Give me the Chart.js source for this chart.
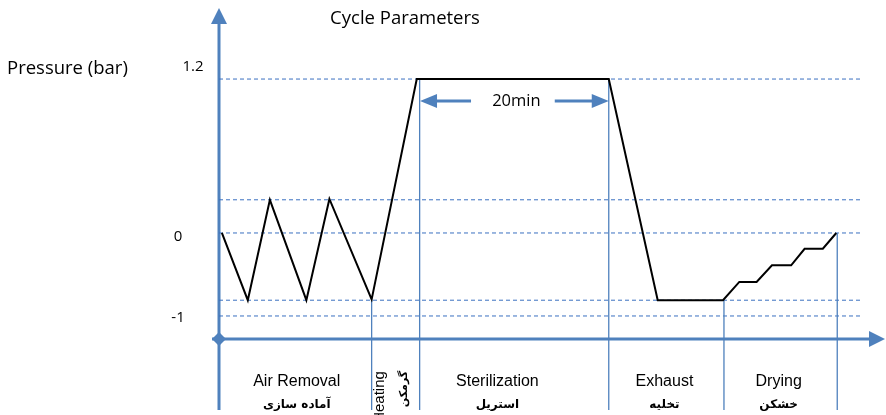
<!DOCTYPE html>
<html>
<head>
<meta charset="utf-8">
<script src="https://cdn.jsdelivr.net/npm/chart.js@4"></script>
<style>
  body { margin: 0; background: #fff; }
</style>
</head>
<body>
<canvas id="cycleChart" width="886" height="415"></canvas>
<script>
// schematic cycle: time in minutes, pressure as drawn level
const minutes = [0.3, 3.0, 5.3, 9.1, 11.5, 15.9, 20.6, 40.6, 45.7, 52.5, 54.2, 56.0, 57.6, 59.6, 61.0, 62.9, 64.3];
const pressureLevel = [0, -0.81, 0.4, -0.81, 0.41, -0.8, 1.855, 1.855, -0.81, -0.81, -0.59, -0.59, -0.39, -0.39, -0.19, -0.19, 0];

const guideLevels = [1.855, 0.4, 0, -0.81, -1];
const yTickValues = [1.855, 0, -1];
const yTickLabels = ['1.2', '0', '-1'];

const phaseBounds = [15.9, 20.9, 40.6, 52.6, 64.4];
const phaseBoundTops = [-0.8, 1.855, 1.855, -0.81, 0];

const phaseNames = ['Air Removal', 'Sterilization', 'Exhaust', 'Drying'];
const phaseNamesFa = ['آماده سازی', 'استریل', 'تخلیه', 'خشکن'];
const phaseCenters = [8.1, 29.0, 46.4, 58.3];

const X_MAX = 69.375, Y_MIN = -2.133, Y_MAX = 2.711;
const AXIS_LEVEL = -1.277;
const BLUE = '#4f81bd';

const datasets = [];
guideLevels.forEach(lv => {
  datasets.push({
    data: [{ x: 0, y: lv }, { x: 67.05, y: lv }],
    borderColor: '#3a70c0', borderWidth: 1, borderDash: [4, 3],
    pointRadius: 0, order: 3
  });
});
phaseBounds.forEach((t, i) => {
  datasets.push({
    data: [{ x: t, y: phaseBoundTops[i] }, { x: t, y: Y_MIN }],
    borderColor: BLUE, borderWidth: 1.3, pointRadius: 0, order: 2
  });
});
datasets.push({
  data: minutes.map((m, i) => ({ x: m, y: pressureLevel[i] })),
  borderColor: '#000', borderWidth: 2, pointRadius: 0, tension: 0, order: 1
});

const decorPlugin = {
  id: 'decor',
  beforeDatasetsDraw(chart) {
    const { ctx, scales: { x, y } } = chart;
    const x0 = x.getPixelForValue(0);
    const yAx = y.getPixelForValue(AXIS_LEVEL);
    const yTop = y.getPixelForValue(Y_MAX);
    const yBot = y.getPixelForValue(Y_MIN);
    const xEnd = x.getPixelForValue(X_MAX);
    ctx.save();
    ctx.strokeStyle = BLUE;
    ctx.fillStyle = BLUE;
    ctx.lineWidth = 3;
    // y axis
    ctx.beginPath();
    ctx.moveTo(x0, yBot);
    ctx.lineTo(x0, yTop + 14);
    ctx.stroke();
    ctx.beginPath();
    ctx.moveTo(x0, yTop);
    ctx.lineTo(x0 - 8, yTop + 16);
    ctx.lineTo(x0 + 8, yTop + 16);
    ctx.closePath();
    ctx.fill();
    // x axis
    ctx.beginPath();
    ctx.moveTo(x0 - 7, yAx);
    ctx.lineTo(xEnd - 14, yAx);
    ctx.stroke();
    ctx.beginPath();
    ctx.moveTo(xEnd, yAx);
    ctx.lineTo(xEnd - 16, yAx - 8);
    ctx.lineTo(xEnd - 16, yAx + 8);
    ctx.closePath();
    ctx.fill();
    // diamond at origin
    ctx.beginPath();
    ctx.moveTo(x0 - 7, yAx);
    ctx.lineTo(x0, yAx - 7);
    ctx.lineTo(x0 + 7, yAx);
    ctx.lineTo(x0, yAx + 7);
    ctx.closePath();
    ctx.fill();
    ctx.restore();
  },
  afterDatasetsDraw(chart) {
    const { ctx, scales: { x, y } } = chart;
    ctx.save();
    ctx.fillStyle = '#000';
    ctx.textAlign = 'center';
    ctx.textBaseline = 'middle';
    ctx.font = '18.5px "Open Sans"';
    ctx.fillText('Cycle Parameters', 405, 19);
    ctx.textAlign = 'left';
    ctx.fillText('Pressure (bar)', 7, 69);
    ctx.textAlign = 'center';
    ctx.font = '15px "Open Sans"';
    const tickOffsets = [-12, 4, 2];
    yTickValues.forEach((v, i) => {
      const px = i === 0 ? 193 : 178;
      ctx.fillText(yTickLabels[i], px, y.getPixelForValue(v) + tickOffsets[i]);
    });

    // 20 min span arrows
    const ya = y.getPixelForValue(1.59);
    const xa = x.getPixelForValue(20.94), xb = x.getPixelForValue(40.6);
    ctx.font = '16.5px "Open Sans"';
    ctx.fillText('20min', (xa + xb) / 2 + 2, ya);
    ctx.strokeStyle = BLUE;
    ctx.fillStyle = BLUE;
    ctx.lineWidth = 3;
    ctx.beginPath();
    ctx.moveTo(xa + 14, ya); ctx.lineTo(xa + 51, ya);
    ctx.moveTo(xb - 54, ya); ctx.lineTo(xb - 14, ya);
    ctx.stroke();
    ctx.beginPath();
    ctx.moveTo(xa, ya); ctx.lineTo(xa + 17, ya - 7); ctx.lineTo(xa + 17, ya + 7); ctx.closePath();
    ctx.moveTo(xb, ya); ctx.lineTo(xb - 17, ya - 7); ctx.lineTo(xb - 17, ya + 7); ctx.closePath();
    ctx.fill();

    // phase labels
    ctx.fillStyle = '#000';
    phaseNames.forEach((name, i) => {
      const cx = x.getPixelForValue(phaseCenters[i]);
      ctx.font = '16px "Liberation Sans"';
      ctx.fillText(name, cx, 382);
      ctx.font = 'bold 12px "DejaVu Sans"';
      ctx.fillText(phaseNamesFa[i], cx, 405);
    });
    // heating (rotated)
    ctx.save();
    ctx.translate(x.getPixelForValue(16.75), 397);
    ctx.rotate(-Math.PI / 2);
    ctx.font = '15px "Liberation Sans"';
    ctx.fillText('Heating', 0, 0);
    ctx.restore();
    ctx.save();
    ctx.translate(x.getPixelForValue(19.3), 389);
    ctx.rotate(-Math.PI / 2);
    ctx.font = 'bold 11px "DejaVu Sans"';
    ctx.fillText('گرمکن', 0, 0);
    ctx.restore();
    ctx.restore();
  }
};

new Chart(document.getElementById('cycleChart'), {
  type: 'line',
  data: { datasets },
  options: {
    responsive: false,
    animation: false,
    devicePixelRatio: 1,
    layout: { padding: { left: 219, right: 1, top: 8, bottom: 5 } },
    plugins: { legend: { display: false }, tooltip: { enabled: false } },
    scales: {
      x: { type: 'linear', min: 0, max: X_MAX, display: false },
      y: { type: 'linear', min: Y_MIN, max: Y_MAX, display: false }
    },
    elements: { line: { borderCapStyle: 'butt' } }
  },
  plugins: [decorPlugin]
});
</script>
</body>
</html>
